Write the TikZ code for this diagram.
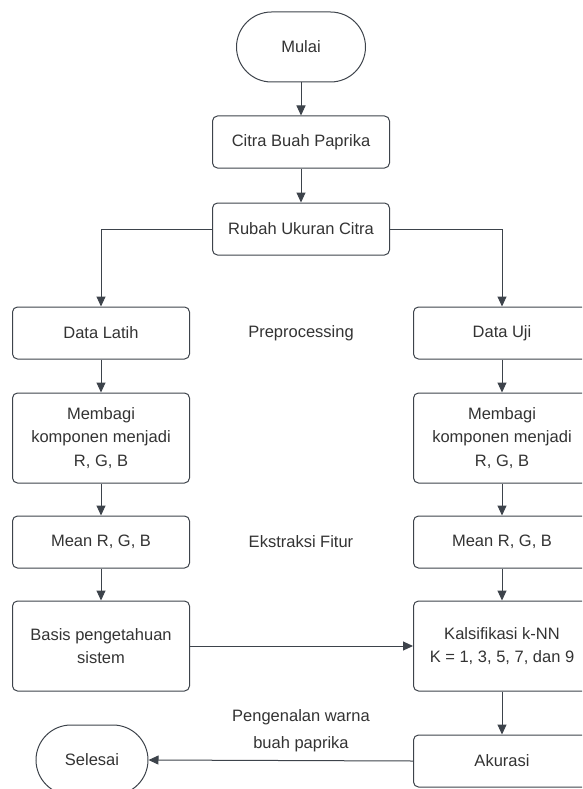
\documentclass[tikz,border=0pt]{standalone}
\usepackage{fontspec}
\setmainfont{Liberation Sans}
\usetikzlibrary{arrows.meta}

\definecolor{linegray}{HTML}{3D434B}
\definecolor{textgray}{HTML}{333333}

\tikzset{
  box/.style={draw=linegray, line width=1pt, rounded corners=5pt,
    minimum width=177pt, minimum height=52pt, align=center,
    text=textgray, font=\fontsize{16.5}{23.5}\selectfont},
  tallbox/.style={box, minimum height=90pt},
  term/.style={box, rounded corners=35pt, minimum height=70pt},
  flow/.style={draw=linegray, line width=1pt, -{Triangle[length=10pt,width=9pt]}},
  plain/.style={text=textgray, align=center, font=\fontsize{16.5}{27}\selectfont}
}

\begin{document}
\begin{tikzpicture}[x=1pt,y=-1pt]
\useasboundingbox (0,0) rectangle (582,789);
\clip (0,0) rectangle (582,789);

% middle column
\node[term, minimum width=129pt] (mulai) at (301,47) {Mulai};
\node[box] (citra) at (301,142) {Citra Buah Paprika};
\node[box] (rubah) at (301,229) {Rubah Ukuran Citra};

% left column
\node[box] (latih) at (101,333) {Data Latih};
\node[tallbox] (bagiL) at (101,438) {Membagi\\komponen menjadi\\R, G, B};
\node[box] (meanL) at (101,542) {Mean R, G, B};
\node[tallbox] (basis) at (101,646) {Basis pengetahuan\\sistem};
\node[term, minimum width=112pt] (selesai) at (92,760) {Selesai};

% right column
\node[box] (uji) at (502,333) {Data Uji};
\node[tallbox] (bagiR) at (502,438) {Membagi\\komponen menjadi\\R, G, B};
\node[box] (meanR) at (502,542) {Mean R, G, B};
\node[tallbox] (knn) at (502,646) {Kalsifikasi k-NN\\K = 1, 3, 5, 7, dan 9};
\node[box] (akurasi) at (502,761) {Akurasi};

% stage labels
\node[plain] (prep) at (301,333) {Preprocessing};
\node[plain] (ekstrak) at (301,542) {Ekstraksi Fitur};
\node[plain] (kenal) at (301,731) {Pengenalan warna\\buah paprika};

% connectors
\draw[flow] (mulai) -- (citra);
\draw[flow] (citra) -- (rubah);
\draw[flow] (rubah.west) -| (latih.north);
\draw[flow] (rubah.east) -| (uji.north);
\draw[flow] (latih) -- (bagiL);
\draw[flow] (bagiL) -- (meanL);
\draw[flow] (meanL) -- (basis);
\draw[flow] (uji) -- (bagiR);
\draw[flow] (bagiR) -- (meanR);
\draw[flow] (meanR) -- (knn);
\draw[flow] (basis) -- (knn);
\draw[flow] (knn) -- (akurasi);
\draw[flow] (akurasi.west) -- (selesai.east);
\end{tikzpicture}
\end{document}
